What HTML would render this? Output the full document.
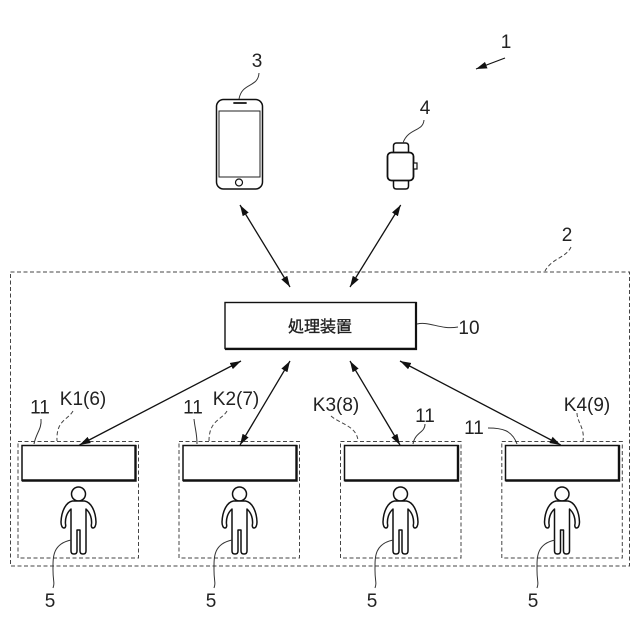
<!DOCTYPE html>
<html><head><meta charset="utf-8"><style>
html,body{margin:0;padding:0;background:#fff}
svg{display:block}
text{font-family:"Liberation Sans","Noto Sans CJK JP",sans-serif;fill:#222;font-size:19px;text-anchor:middle}
.l{fill:none;stroke:#333;stroke-width:1}
.d{fill:none;stroke:#444;stroke-width:1;stroke-dasharray:4 2.5}
.a{stroke:#111;stroke-width:1.3;fill:none;marker-start:url(#h);marker-end:url(#h)}
.b{fill:#fff;stroke:#111;stroke-width:1.4}
.p{fill:#fff;stroke:#111;stroke-width:1.5;stroke-linejoin:round}
</style></head><body>
<svg width="640" height="640" viewBox="0 0 640 640" xmlns="http://www.w3.org/2000/svg">
<defs>
<marker id="h" markerUnits="userSpaceOnUse" markerWidth="12" markerHeight="8" refX="11" refY="4" orient="auto-start-reverse"><path d="M0 .5L11 4L0 7.500Z" fill="#111"/></marker>
<g id="person">
<circle cx="0" cy="494" r="7" class="p"/>
<path class="p" d="M-6 501C-12 502-17 510-17.500 522C-17.500 526-16 528-14.500 528C-13 528-12.500 526-13 524C-13.500 519-12 513-7.500 509V551C-7.500 553-6.500 554-4.500 554C-2.500 554-1.500 553-1.500 551V530H1.500V551C1.500 553 2.500 554 4.500 554C6.500 554 7.500 553 7.500 551V509C12 513 13.500 519 13 524C12.500 526 13 528 14.500 528C16 528 17.500 526 17.500 522C17 510 12 502 6 501Z"/>
</g>
</defs>

<rect x="10.500" y="272" width="619" height="294" class="d"/>

<!-- phone -->
<rect x="216.500" y="99.500" width="46" height="89.500" rx="7" fill="#fff" stroke="#111" stroke-width="1.500"/>
<rect x="219" y="111" width="41" height="66" fill="#fff" stroke="#222" stroke-width="1"/>
<line x1="234" y1="103" x2="246" y2="103" stroke="#111" stroke-width="1.800" stroke-linecap="round"/>
<circle cx="239" cy="182.500" r="3.500" fill="#fff" stroke="#111" stroke-width="1.200"/>

<!-- watch -->
<path d="M393.500 152V146Q393.500 143 396.500 143H405.500Q408.500 143 408.500 146V152M393.500 181V186Q393.500 189 396.500 189H405.500Q408.500 189 408.500 186V181" fill="#fff" stroke="#111" stroke-width="1.500"/>
<rect x="387.500" y="152.500" width="26" height="28" rx="4" fill="#fff" stroke="#111" stroke-width="1.800"/>
<rect x="413.500" y="163" width="3.500" height="6" fill="#fff" stroke="#111" stroke-width="1.200"/>

<!-- processing device -->
<rect x="225" y="302.500" width="191" height="46" class="b" stroke-width="1.500"/>
<path d="M416 302V349H225" fill="none" stroke="#111" stroke-width="2.200"/>
<text x="320" y="332" style="font-size:16px;stroke:#222;stroke-width:.35">処理装置</text>

<!-- K groups -->
<rect x="18" y="441.500" width="120.500" height="116.500" class="d"/>
<rect x="179" y="441.500" width="120.500" height="116.500" class="d"/>
<rect x="340.500" y="441.500" width="120.500" height="116.500" class="d"/>
<rect x="501.800" y="441.500" width="120.500" height="116.500" class="d"/>

<g fill="#fff" stroke="#111">
<path d="M22 445.500H135.500V480.500H22Z" stroke-width="1.500"/><path d="M135.500 445V480.500H22" fill="none" stroke-width="2.400"/>
<path d="M183 445.500H296.500V480.500H183Z" stroke-width="1.500"/><path d="M296.500 445V480.500H183" fill="none" stroke-width="2.400"/>
<path d="M344.500 445.500H458V480.500H344.500Z" stroke-width="1.500"/><path d="M458 445V480.500H344.500" fill="none" stroke-width="2.400"/>
<path d="M505.500 445.500H619V480.500H505.500Z" stroke-width="1.500"/><path d="M619 445V480.500H505.500" fill="none" stroke-width="2.400"/>
</g>

<use href="#person" x="78.500"/>
<use href="#person" x="239.500"/>
<use href="#person" x="400.500"/>
<use href="#person" x="562"/>

<!-- arrows -->
<line class="a" x1="240" y1="205" x2="290" y2="287"/>
<line class="a" x1="400.700" y1="205" x2="350" y2="287"/>
<line class="a" x1="241" y1="361" x2="79.500" y2="445"/>
<line class="a" x1="290" y1="361" x2="240" y2="445"/>
<line class="a" x1="350" y1="361" x2="400" y2="445"/>
<line class="a" x1="400" y1="361" x2="560.700" y2="445"/>
<line x1="505" y1="58" x2="476" y2="69" stroke="#111" stroke-width="1.200" marker-end="url(#h)"/>

<!-- leaders -->
<path class="l" d="M259 73C258 88 242 82 239 99"/>
<path class="l" d="M424 120C423 132 408 128 403 143"/>
<path class="d" d="M571 247C566 258 552 258 545 271"/>
<path class="l" d="M417 324C430 321 440 330 458 327"/>
<path class="l" d="M41 419C42 429 36 433 34 444"/>
<path class="d" d="M73 411C68 420 56 420 57 441"/>
<path class="l" d="M194 419C195 429 197 433 197 444"/>
<path class="d" d="M227 411C222 420 209 420 209 441"/>
<path class="d" d="M331 416C340 424 357 426 358 441"/>
<path class="l" d="M425 424C425 433 415 432 413 444"/>
<path class="l" d="M488 428C502 428 512 430 517 444"/>
<path class="d" d="M577 413C577 422 585 428 583 441"/>
<path class="l" d="M71 540C52 544 53 558 53 570S55 582 53 588"/>
<path class="l" d="M232 540C213 544 214 558 214 570S216 582 214 588"/>
<path class="l" d="M393 540C374 544 375 558 375 570S377 582 375 588"/>
<path class="l" d="M555 540C536 544 537 558 537 570S539 582 537 588"/>

<!-- labels -->
<text x="506" y="48">1</text>
<text x="567" y="241">2</text>
<text x="257" y="67">3</text>
<text x="425" y="114">4</text>
<text x="469" y="334">10</text>
<text x="40" y="413.500">11</text>
<text x="193" y="413.500">11</text>
<text x="425" y="422">11</text>
<text x="474" y="434">11</text>
<text x="83" y="405">K1(6)</text>
<text x="236" y="405">K2(7)</text>
<text x="336" y="411">K3(8)</text>
<text x="587" y="411">K4(9)</text>
<text x="50" y="607">5</text>
<text x="211" y="607">5</text>
<text x="372" y="607">5</text>
<text x="533" y="607">5</text>
</svg>
</body></html>
